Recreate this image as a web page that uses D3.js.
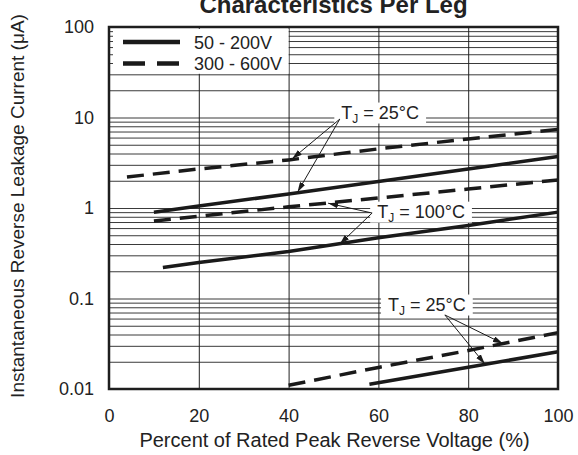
<!DOCTYPE html>
<html>
<head>
<meta charset="utf-8">
<script src="https://cdn.jsdelivr.net/npm/d3@7"></script>
<style>
  body { margin: 0; background: #fff; }
  svg { display: block; }
  text { font-family: Arial, "Liberation Sans", Helvetica, sans-serif; fill: #222; }
</style>
</head>
<body>
<div class="canvas"></div>
<script>
// axis ticks
const xTicks = [0, 20, 40, 60, 80, 100];
const xGrid = [20, 40, 60, 80];
const yTicks = [0.01, 0.1, 1, 10, 100];
const yTickLabels = ['0.01', '0.1', '1', '10', '100'];

// [percent of rated voltage, leakage current in uA]
const low25 = [[10, 0.9], [20, 1.05], [40, 1.43], [60, 1.96], [80, 2.69], [100, 3.7]];
const high25 = [[4, 2.2], [20, 2.7], [40, 3.4], [60, 4.5], [80, 5.8], [100, 7.4]];
const low100 = [[12, 0.22], [20, 0.25], [40, 0.33], [60, 0.47], [80, 0.64], [100, 0.9]];
const high100 = [[10, 0.72], [20, 0.81], [40, 1.03], [60, 1.29], [80, 1.62], [100, 2.04]];
const low25b = [[58, 0.0113], [80, 0.0174], [100, 0.0258]];
const high25b = [[40, 0.011], [60, 0.0173], [80, 0.0266], [100, 0.042]];

const legendNames = ['50 - 200V', '300 - 600V'];

// annotation labels: temperature, label centre, arrow start, arrow targets
const noteTemps = ['25°C', '100°C', '25°C'];
const noteAt = [[60.4, 11.2], [69.5, 0.9], [70.8, 0.0847]];
const noteFrom = [[51.4, 9.6], [58.6, 0.88], [74.8, 0.0658]];
const noteTo = [
  [[40.8, 3.5], [42, 1.5]],
  [[48.8, 1.13], [51.4, 0.4]],
  [[87.7, 0.0318], [83.7, 0.0189]]
];

const dims = { width: 578, height: 455 };
const plot = { left: 109, right: 558, top: 27, bottom: 389 };

const svg = d3.select('.canvas')
  .append('svg')
  .attr('width', dims.width)
  .attr('height', dims.height);

const x = d3.scaleLinear().domain([0, 100]).range([plot.left, plot.right]);
const y = d3.scaleLog().domain([0.01, 100]).range([plot.bottom, plot.top]);

const pw = plot.right - plot.left;
const ph = plot.bottom - plot.top;

// horizontal grid, every 1..9 of each decade
svg.append('g')
  .attr('transform', `translate(${plot.left},0)`)
  .call(d3.axisLeft(y).tickValues(y.ticks()).tickSize(-pw).tickFormat(''))
  .call(g => g.select('.domain').remove())
  .call(g => g.selectAll('line').attr('stroke', '#3a3a3a').attr('stroke-width', 1));

// vertical grid
svg.append('g')
  .attr('transform', `translate(0,${plot.bottom})`)
  .call(d3.axisBottom(x).tickValues(xGrid).tickSize(-ph).tickFormat(''))
  .call(g => g.select('.domain').remove())
  .call(g => g.selectAll('line').attr('stroke', '#222').attr('stroke-width', 1));

// legend box hides the grid under it
const legend = svg.append('g');
legend.append('rect')
  .attr('x', plot.left + 4)
  .attr('y', plot.top + 2)
  .attr('width', x(40) - plot.left - 4)
  .attr('height', y(30) - plot.top - 2.5)
  .attr('fill', '#fff');

legendNames.forEach((name, i) => {
  const ly = 42 + i * 21.5;
  legend.append('line')
    .attr('x1', 123).attr('x2', 180)
    .attr('y1', ly).attr('y2', ly)
    .attr('stroke', '#1a1a1a')
    .attr('stroke-width', 4.5)
    .attr('stroke-dasharray', i ? '22,12' : null);
  legend.append('text')
    .attr('x', 194)
    .attr('y', ly + 6.5)
    .attr('font-size', 18)
    .text(name);
});

// white boxes behind the annotation labels
const notes = svg.append('g');
const noteLabels = noteTemps.map((t, i) => {
  const g = notes.append('g');
  const box = g.append('rect').attr('fill', '#fff');
  const txt = g.append('text')
    .attr('x', x(noteAt[i][0]))
    .attr('y', y(noteAt[i][1]) + 6)
    .attr('text-anchor', 'middle')
    .attr('font-size', 18);
  txt.append('tspan').text('T');
  txt.append('tspan').attr('font-size', 12).attr('dy', 4).text('J');
  txt.append('tspan').attr('dy', -4).text(' = ' + t);
  const bb = txt.node().getBBox();
  box.attr('x', bb.x - 7).attr('y', y(noteAt[i][1]) - 10.5)
    .attr('width', bb.width + 14).attr('height', 21);
  return g;
});

// curves
const line = d3.line().x(d => x(d[0])).y(d => y(d[1]));
const series = [
  { data: low25, dash: null },
  { data: high25, dash: '17,9' },
  { data: low100, dash: null },
  { data: high100, dash: '17,9' },
  { data: low25b, dash: null },
  { data: high25b, dash: '17,9' }
];

svg.append('g').selectAll('path')
  .data(series)
  .enter().append('path')
  .attr('fill', 'none')
  .attr('stroke', '#1a1a1a')
  .attr('stroke-width', 3.5)
  .attr('stroke-dasharray', d => d.dash)
  .attr('d', d => line(d.data));

// arrows
svg.append('defs').append('marker')
  .attr('id', 'head')
  .attr('markerUnits', 'userSpaceOnUse')
  .attr('viewBox', '0 0 10 6')
  .attr('refX', 10).attr('refY', 3)
  .attr('markerWidth', 10).attr('markerHeight', 6)
  .attr('orient', 'auto')
  .append('path')
  .attr('d', 'M0,0L10,3L0,6z')
  .attr('fill', '#1a1a1a');

noteTo.forEach((targets, i) => {
  targets.forEach(t => {
    svg.append('line')
      .attr('x1', x(noteFrom[i][0])).attr('y1', y(noteFrom[i][1]))
      .attr('x2', x(t[0])).attr('y2', y(t[1]))
      .attr('stroke', '#1a1a1a')
      .attr('stroke-width', 1)
      .attr('marker-end', 'url(#head)');
  });
});

// frame
svg.append('rect')
  .attr('x', plot.left).attr('y', plot.top)
  .attr('width', pw).attr('height', ph)
  .attr('fill', 'none')
  .attr('stroke', '#1e1e1e')
  .attr('stroke-width', 2.5);

// tick labels
svg.append('g')
  .attr('transform', `translate(0,${plot.bottom})`)
  .call(d3.axisBottom(x).tickValues(xTicks).tickSize(0).tickPadding(20))
  .call(g => g.select('.domain').remove())
  .call(g => g.selectAll('text').attr('font-size', 18).attr('fill', '#222')
    .style('font-family', 'Arial, "Liberation Sans", sans-serif'));

svg.append('g')
  .attr('transform', `translate(${plot.left},0)`)
  .call(d3.axisLeft(y).tickValues(yTicks).tickSize(0).tickPadding(15)
    .tickFormat((d, i) => yTickLabels[i]))
  .call(g => g.select('.domain').remove())
  .call(g => g.selectAll('text').attr('font-size', 18).attr('fill', '#222')
    .style('font-family', 'Arial, "Liberation Sans", sans-serif'));

// titles
svg.append('text')
  .attr('x', (plot.left + plot.right) / 2)
  .attr('y', 13)
  .attr('text-anchor', 'middle')
  .attr('font-size', 24)
  .attr('font-weight', 'bold')
  .text('Characteristics Per Leg');

svg.append('text')
  .attr('x', (plot.left + plot.right) / 2 + 1)
  .attr('y', 447)
  .attr('text-anchor', 'middle')
  .attr('font-size', 20)
  .text('Percent of Rated Peak Reverse Voltage (%)');

svg.append('text')
  .attr('transform', `translate(24,${(plot.top + plot.bottom) / 2 - 2}) rotate(-90)`)
  .attr('text-anchor', 'middle')
  .attr('font-size', 19)
  .text('Instantaneous Reverse Leakage Current (μA)');
</script>
</body>
</html>
